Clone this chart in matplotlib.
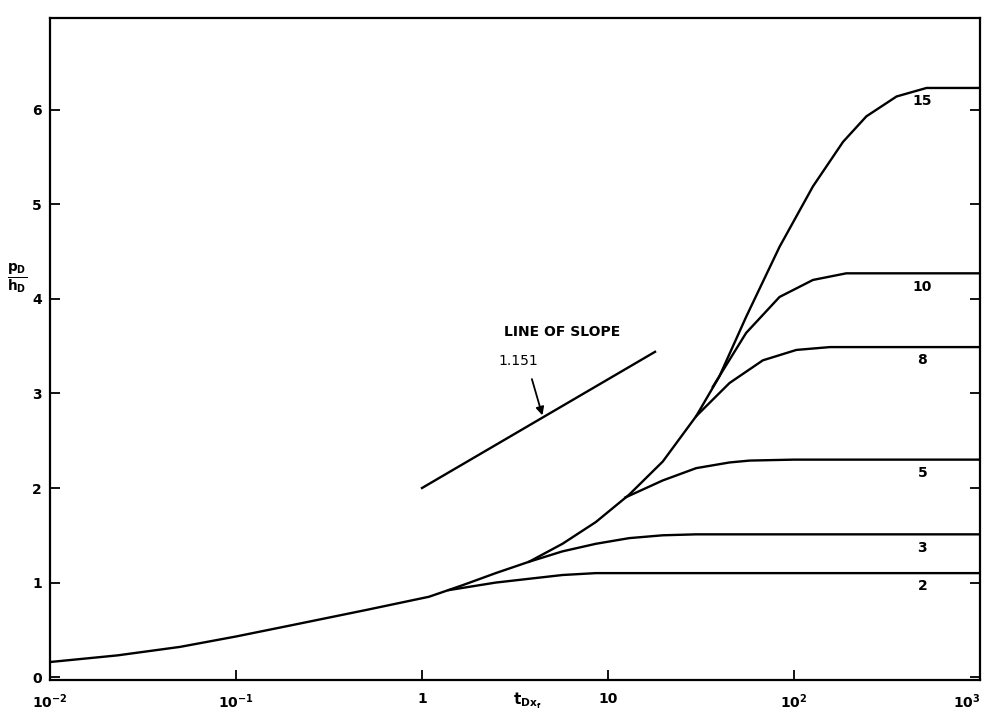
import numpy as np
import matplotlib
matplotlib.use("Agg")
import matplotlib.pyplot as plt

plt.rcParams['font.family'] = ['DejaVu Sans']
plt.rcParams['mathtext.fontset'] = 'dejavusans'
plt.rcParams['mathtext.default'] = 'bf'

# common curve (the 15 case follows it to its plateau)
t_common = [0.01, 0.023, 0.05, 0.1, 0.2, 0.5, 1.09, 1.64, 2.49, 3.76, 5.69, 8.6, 13.0,
            19.7, 29.8, 39.7, 55.3, 83.6, 126.5, 183.5, 245, 356, 516, 1000]
p_common = [0.16, 0.23, 0.32, 0.43, 0.55, 0.71, 0.85, 0.97, 1.10, 1.22, 1.41, 1.64, 1.93,
            2.28, 2.76, 3.18, 3.81, 4.55, 5.19, 5.66, 5.93, 6.14, 6.23, 6.23]

# branches leaving the common curve
branch_t = [
    [1.39, 2.49, 3.76, 5.69, 8.6, 20, 1000],            # 2
    [3.76, 5.69, 8.6, 13, 19.7, 29.8, 1000],            # 3
    [12.4, 19.7, 29.8, 45, 57.7, 100, 1000],            # 5
    [29.8, 45, 68, 103, 156, 250, 1000],                # 8
    [36.6, 55.3, 83.6, 126.5, 191, 300, 1000],          # 10
]
branch_p = [
    [0.92, 1.00, 1.04, 1.08, 1.10, 1.10, 1.10],
    [1.22, 1.33, 1.41, 1.47, 1.50, 1.51, 1.51],
    [1.90, 2.08, 2.21, 2.27, 2.29, 2.30, 2.30],
    [2.76, 3.11, 3.35, 3.46, 3.49, 3.49, 3.49],
    [3.07, 3.64, 4.02, 4.20, 4.27, 4.27, 4.27],
]
plateaus = [1.10, 1.51, 2.30, 3.49, 4.27, 6.23]
plateau_labels = ["2", "3", "5", "8", "10", "15"]

# line of slope 1.151
slope_t = [1.0, 17.9]
slope_p = [2.0, 3.44]

fig = plt.figure(figsize=(9.87, 7.16), dpi=100)
ax = fig.add_axes([0.0507, 0.0503, 0.9422, 0.9246])

ax.plot(t_common, p_common, color="black", lw=1.7)
for tt, pp in zip(branch_t, branch_p):
    ax.plot(tt, pp, color="black", lw=1.7)
ax.plot(slope_t, slope_p, color="black", lw=1.7)

ax.text(5.66, 3.65, "LINE OF SLOPE", fontsize=10, fontweight="bold",
        ha="center", va="center")
ax.text(3.3, 3.34, "1.151", fontsize=10, ha="center", va="center")
ax.annotate("", xy=(4.48, 2.74), xytext=(3.86, 3.18),
            arrowprops=dict(arrowstyle="-|>", color="black", lw=1.3,
                            mutation_scale=12))

for lab, pl in zip(plateau_labels, plateaus):
    ax.text(490, pl - 0.14, lab, fontsize=10, fontweight="bold",
            ha="center", va="center")

ax.set_xscale("log")
ax.set_xlim(0.01, 1000)
ax.set_ylim(-0.03, 6.97)

ax.set_xticks([0.01, 0.1, 1, 10, 100, 1000])
ax.set_xticklabels([r"$10^{-2}$", r"$10^{-1}$", "1", "10", r"$10^{2}$", r"$10^{3}$"])
ax.xaxis.set_minor_locator(matplotlib.ticker.NullLocator())
ax.set_yticks([0, 1, 2, 3, 4, 5, 6])
ax.tick_params(axis="both", direction="in", length=7, width=1.3,
               labelsize=10, right=True)
ax.tick_params(axis="x", pad=9)
ax.tick_params(axis="y", pad=6)
for lbl in ax.get_xticklabels() + ax.get_yticklabels():
    lbl.set_fontweight("bold")
ax.get_xticklabels()[-1].set_horizontalalignment("right")
for sp in ax.spines.values():
    sp.set_linewidth(1.6)

fig.text(17 / 987, 1 - 278 / 716, r"$\frac{p_D}{h_D}$", fontsize=14,
         ha="center", va="center")
fig.text(527 / 987, 1 - 701 / 716, r"$t_{Dx_f}$", fontsize=11,
         ha="center", va="center")

fig.savefig("out.png", dpi=100)
